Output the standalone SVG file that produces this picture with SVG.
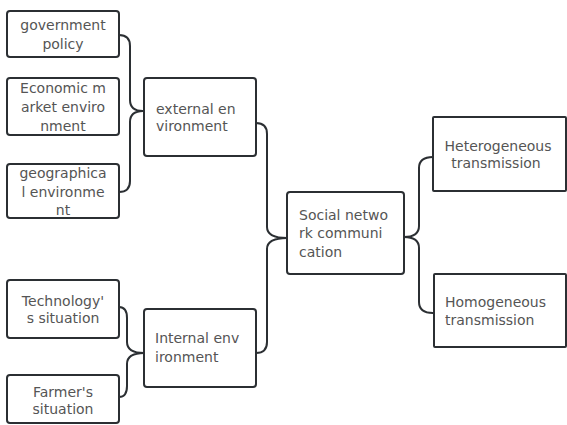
<svg xmlns="http://www.w3.org/2000/svg" width="567" height="425" viewBox="0 0 567 425">
<style>
.box{fill:#fff;stroke:#2b2f33;stroke-width:2}
.con{fill:none;stroke:#2b2f33;stroke-width:2}
text{font-family:"DejaVu Sans",Verdana,sans-serif;font-size:14px;fill:#555}
.c{text-anchor:middle}
</style>
<rect width="567" height="425" fill="#fff"/>
<g id="connectors">
<path class="con" d="M119 35 Q130 35 130 46 L130 100 Q130 111 143 111 Q130 111 130 122 L130 181 Q130 192 119 192"/>
<path class="con" d="M256 123 Q267 123 267 134 L267 227 Q267 238 287 238 Q267 238 267 249 L267 342 Q267 353 256 353"/>
<path class="con" d="M119 307 Q127 307 127 318 L127 342 Q127 353 144 353 Q127 353 127 364 L127 386 Q127 397 119 397"/>
<path class="con" d="M433 157 Q419 157 419 168 L419 226 Q419 237 404 237 Q419 237 419 248 L419 302 Q419 313 433 313"/>
</g>
<g id="gov"><rect class="box" x="7" y="11" width="112" height="46" rx="3"/><text class="c" x="63" y="30">government</text><text class="c" x="63" y="49">policy</text></g>
<g id="econ"><rect class="box" x="7" y="78" width="112" height="57" rx="3"/><text class="c" x="63" y="93">Economic m</text><text class="c" x="63" y="112">arket enviro</text><text class="c" x="63" y="131">nment</text></g>
<g id="geo"><rect class="box" x="7" y="164" width="112" height="54" rx="3"/><text class="c" x="63" y="178">geographica</text><text class="c" x="63" y="197">l environme</text><text class="c" x="63" y="215">nt</text></g>
<g id="ext"><rect class="box" x="144" y="78" width="112" height="78" rx="3"/><text x="156" y="114">external en</text><text x="156" y="131">vironment</text></g>
<g id="tech"><rect class="box" x="7" y="280" width="112" height="58" rx="3"/><text class="c" x="63" y="306">Technology'</text><text class="c" x="63" y="323">s situation</text></g>
<g id="farmer"><rect class="box" x="7" y="375" width="112" height="48" rx="3"/><text class="c" x="63" y="397">Farmer's</text><text class="c" x="63" y="414">situation</text></g>
<g id="int"><rect class="box" x="144" y="309" width="112" height="78" rx="3"/><text x="155" y="343">Internal env</text><text x="155" y="362">ironment</text></g>
<g id="social"><rect class="box" x="287" y="192" width="117" height="82" rx="3"/><text x="299" y="220">Social netwo</text><text x="299" y="238">rk communi</text><text x="299" y="257">cation</text></g>
<g id="hetero"><rect class="box" x="433" y="117" width="133" height="74" rx="1"/><text class="c" x="498" y="151">Heterogeneous</text><text class="c" x="496" y="168">transmission</text></g>
<g id="homo"><rect class="box" x="434" y="274" width="132" height="73" rx="1"/><text x="445" y="307">Homogeneous</text><text x="445" y="325">transmission</text></g>
</svg>
